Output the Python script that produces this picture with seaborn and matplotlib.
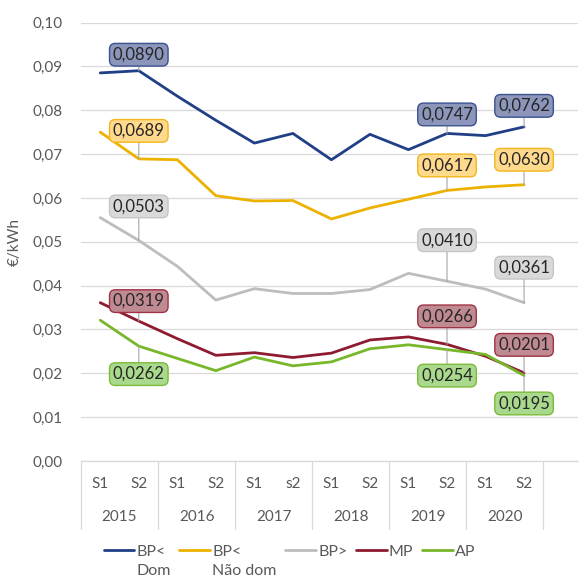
import numpy as np
import pandas as pd
import matplotlib
matplotlib.use('Agg')
import matplotlib.pyplot as plt
import seaborn as sns

# Data
semesters = ['S1', 'S2', 'S1', 'S2', 'S1', 's2', 'S1', 'S2', 'S1', 'S2', 'S1', 'S2']
years = ['2015', '2016', '2017', '2018', '2019', '2020']
series_names = ['BP< Dom', 'BP< Não dom', 'BP>', 'MP', 'AP']
legend_labels = ['BP<\nDom', 'BP<\nNão dom', 'BP>\n', 'MP\n', 'AP\n']

bp_dom = [0.0885, 0.0890, 0.0832, 0.0777, 0.0725, 0.0747, 0.0687, 0.0745, 0.0710, 0.0747, 0.0742, 0.0762]
bp_nao_dom = [0.0750, 0.0689, 0.0687, 0.0605, 0.0593, 0.0594, 0.0552, 0.0577, 0.0597, 0.0617, 0.0625, 0.0630]
bp_maior = [0.0555, 0.0503, 0.0444, 0.0367, 0.0393, 0.0382, 0.0382, 0.0391, 0.0428, 0.0410, 0.0392, 0.0361]
mp = [0.0361, 0.0319, 0.0279, 0.0241, 0.0247, 0.0236, 0.0246, 0.0276, 0.0283, 0.0266, 0.0239, 0.0201]
ap = [0.0321, 0.0262, 0.0234, 0.0206, 0.0237, 0.0217, 0.0226, 0.0256, 0.0265, 0.0254, 0.0243, 0.0195]

# which points carry a value label: (series, index, vertical offset in px)
labelled = [
    ('BP< Dom', 1, 16), ('BP< Dom', 9, 19), ('BP< Dom', 11, 21),
    ('BP< Não dom', 1, 28), ('BP< Não dom', 9, 25), ('BP< Não dom', 11, 25),
    ('BP>', 1, 34), ('BP>', 9, 41), ('BP>', 11, 35),
    ('MP', 1, 20), ('MP', 9, 28), ('MP', 11, 28),
    ('AP', 1, -28), ('AP', 9, -26), ('AP', 11, -28),
]

line_colors = ['#203F86', '#EDB100', '#BDBDBD', '#8E1B30', '#78B72A']
box_faces = ['#8C96BA', '#FFD98C', '#D9D9D9', '#C08A92', '#A9D98C']
box_edges = ['#3B5190', '#F2B71D', '#C6C6C6', '#9E3345', '#7DBA3A']

values = [bp_dom, bp_nao_dom, bp_maior, mp, ap]
df = pd.DataFrame({
    'pos': np.tile(np.arange(len(semesters)), len(series_names)),
    'serie': np.repeat(series_names, len(semesters)),
    'valor': np.concatenate(values),
})

sns.set_style('white')
plt.rcParams['font.family'] = ['Lato', 'DejaVu Sans']

fig = plt.figure(figsize=(5.79, 5.80), dpi=100)
ax = fig.add_axes([81 / 579, 1 - 461 / 580, 497 / 579, 438.5 / 580])

sns.lineplot(data=df, x='pos', y='valor', hue='serie', palette=line_colors,
             hue_order=series_names, linewidth=2.0, sort=False, legend=False, ax=ax)

ax.set_ylim(0, 0.10)
ax.set_xlim(-0.5, 12.4)
ax.set_yticks(np.arange(0, 0.101, 0.01))
ax.yaxis.set_major_formatter(plt.FuncFormatter(lambda v, p: f'{v:.2f}'.replace('.', ',')))
ax.tick_params(axis='y', length=0, pad=13, labelsize=11, labelcolor='#595959')
ax.set_xticks([])
ax.set_xlabel('')
ax.set_ylabel('€/kWh', fontsize=11, color='#595959', labelpad=8)
ax.grid(axis='y', color='#D9D9D9', linewidth=0.9)
ax.set_axisbelow(True)
for s in ['top', 'right', 'left']:
    ax.spines[s].set_visible(False)
ax.spines['bottom'].set_color('#D9D9D9')
ax.spines['bottom'].set_linewidth(0.9)

# multi-level category axis
tr = ax.get_xaxis_transform()
for i, s in enumerate(semesters):
    ax.text(i, -0.053, s, transform=tr, ha='center', va='center', fontsize=11, color='#595959')
for j, y in enumerate(years):
    ax.text(2 * j + 0.5, -0.128, y, transform=tr, ha='center', va='center', fontsize=11, color='#595959')
for b in np.arange(-0.5, 12, 2):
    ax.plot([b, b], [0, -0.155], transform=tr, color='#D9D9D9', lw=0.9, clip_on=False)

# value labels
for name, idx, dy in labelled:
    k = series_names.index(name)
    v = values[k][idx]
    ax.annotate(f'{v:.4f}'.replace('.', ','), xy=(idx, v), xytext=(0, dy),
                textcoords='offset pixels', ha='center', va='center', fontsize=12,
                color='#262626',
                bbox=dict(boxstyle='round,pad=0.2,rounding_size=0.35',
                          fc=box_faces[k], ec=box_edges[k], lw=1),
                arrowprops=dict(arrowstyle='-', color='#A6A6A6', lw=0.8,
                                shrinkA=0, shrinkB=0))

handles = ax.get_lines()[:len(series_names)]
leg = fig.legend(handles, legend_labels, loc='upper center', bbox_to_anchor=(0.5, 0.074),
                 ncol=5, frameon=False, fontsize=11.5, handlelength=1.9,
                 handletextpad=0.15, columnspacing=0.55, borderpad=0,
                 labelcolor='#595959')
for t in leg.get_texts():
    t.set_linespacing(1.45)
for h in leg.legend_handles:
    h.set_linewidth(2.0)
    y = np.asarray(h.get_ydata(), dtype=float)
    h.set_ydata(y + 0.72 * 11.5)

fig.savefig('out.png', dpi=100)
